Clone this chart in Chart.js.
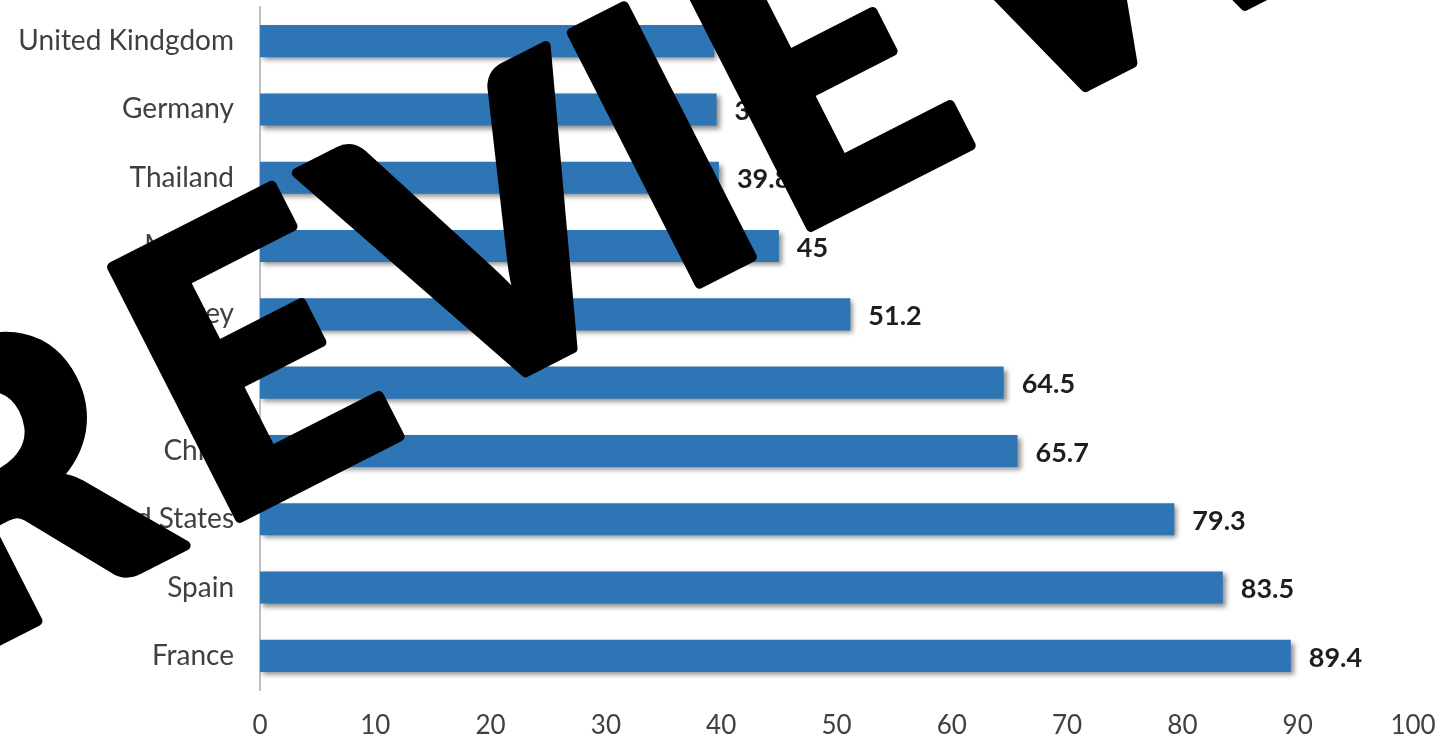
<!DOCTYPE html>
<html>
<head>
<meta charset="utf-8">
<script src="https://cdn.jsdelivr.net/npm/chart.js@4"></script>
<style>
  html, body { margin: 0; padding: 0; background: #ffffff; }
  #wrap { width: 1448px; height: 738px; position: relative; }
</style>
</head>
<body>
<div id="wrap"><canvas id="chart" width="1448" height="738"></canvas></div>
<script>
// International tourist arrivals (millions), top ten destinations
const countries = ['United Kindgdom', 'Germany', 'Thailand', 'Mexico', 'Turkey', 'Italy', 'China', 'United States', 'Spain', 'France'];
const arrivals = [39.4, 39.6, 39.8, 45, 51.2, 64.5, 65.7, 79.3, 83.5, 89.4];
const xTickValues = [0, 10, 20, 30, 40, 50, 60, 70, 80, 90, 100];

// stamp lettering: each letter and where its ink starts along the slanted baseline
const stampLetters = ['R', 'E', 'V', 'I', 'E', 'W', 'E', 'D'];
const stampInkLeft = [null, 0, 210, 516, 641, 865, 1225, 1445];
const stampRightOfR = -45;

const BAR_BLUE = '#2E75B6';
const FONT = 'Lato';

// soft drop shadow under the bars
const barShadow = {
  id: 'barShadow',
  beforeDatasetsDraw(chart) {
    const ctx = chart.ctx;
    ctx.save();
    ctx.shadowColor = 'rgba(0,0,0,0.45)';
    ctx.shadowBlur = 5;
    ctx.shadowOffsetX = 3;
    ctx.shadowOffsetY = 3;
  },
  afterDatasetsDraw(chart) {
    chart.ctx.restore();
  }
};

// value printed to the right of each bar
const valueLabels = {
  id: 'valueLabels',
  afterDatasetsDraw(chart) {
    const ctx = chart.ctx;
    const meta = chart.getDatasetMeta(0);
    const values = chart.data.datasets[0].data;
    ctx.save();
    ctx.font = 'bold 27px ' + FONT;
    ctx.fillStyle = '#1e1e1e';
    ctx.textAlign = 'left';
    ctx.textBaseline = 'middle';
    meta.data.forEach((bar, i) => {
      ctx.fillText(String(values[i]), bar.x + 18, bar.y + 2);
    });
    ctx.restore();
  }
};

// large slanted stamp across the whole chart
const stamp = {
  id: 'stamp',
  afterDraw(chart) {
    const ctx = chart.ctx;
    const angle = -27 * Math.PI / 180;
    const capTotal = 289;     // letter height including the rounded outline
    const outline = 10;       // stroke that rounds the letter corners
    const family = '"' + FONT + '"';

    ctx.save();
    ctx.font = '900 100px ' + family;
    const ratio = ctx.measureText('E').actualBoundingBoxAscent / 100;
    const size = Math.round((capTotal - outline) / ratio);
    ctx.font = '900 ' + size + 'px ' + family;

    ctx.translate(233, 527);
    ctx.rotate(angle);
    ctx.fillStyle = '#000000';
    ctx.strokeStyle = '#000000';
    ctx.lineJoin = 'round';
    ctx.lineWidth = outline;
    ctx.textAlign = 'left';
    ctx.textBaseline = 'alphabetic';

    stampLetters.forEach((ch, i) => {
      const m = ctx.measureText(ch);
      let inkLeft = stampInkLeft[i];
      if (inkLeft === null) {
        const inkWidth = m.actualBoundingBoxLeft + m.actualBoundingBoxRight + outline;
        inkLeft = stampRightOfR - inkWidth;
      }
      const x = inkLeft + outline / 2 + m.actualBoundingBoxLeft;
      const y = -outline / 2;
      ctx.fillText(ch, x, y);
      ctx.strokeText(ch, x, y);
    });
    ctx.restore();
  }
};

new Chart(document.getElementById('chart'), {
  type: 'bar',
  data: {
    labels: countries,
    datasets: [{
      data: arrivals,
      backgroundColor: BAR_BLUE,
      borderWidth: 0,
      categoryPercentage: 1,
      barPercentage: 0.47
    }]
  },
  options: {
    indexAxis: 'y',
    responsive: false,
    animation: false,
    devicePixelRatio: 1,
    layout: { padding: { left: 0, right: 35, top: 7, bottom: 0 } },
    plugins: {
      legend: { display: false },
      tooltip: { enabled: false }
    },
    scales: {
      x: {
        min: 0,
        max: 100,
        afterBuildTicks(axis) {
          axis.ticks = xTickValues.map(v => ({ value: v }));
        },
        grid: { display: false, drawTicks: false, tickLength: 0 },
        border: { display: false },
        ticks: {
          font: { family: FONT, size: 26 },
          color: '#404040',
          padding: 20,
          maxRotation: 0
        },
        afterFit(axis) {
          axis.height = 48;
          axis.paddingLeft = 0;
          axis.paddingRight = 0;
        }
      },
      y: {
        grid: { display: false, drawTicks: false, tickLength: 0 },
        border: { display: true, color: '#BFBFBF', width: 2 },
        ticks: {
          font: { family: FONT, size: 28 },
          color: '#404040',
          padding: 26
        },
        afterFit(axis) {
          axis.width = 260;
          axis.paddingTop = 0;
          axis.paddingBottom = 0;
        }
      }
    }
  },
  plugins: [barShadow, valueLabels, stamp]
});
</script>
</body>
</html>
